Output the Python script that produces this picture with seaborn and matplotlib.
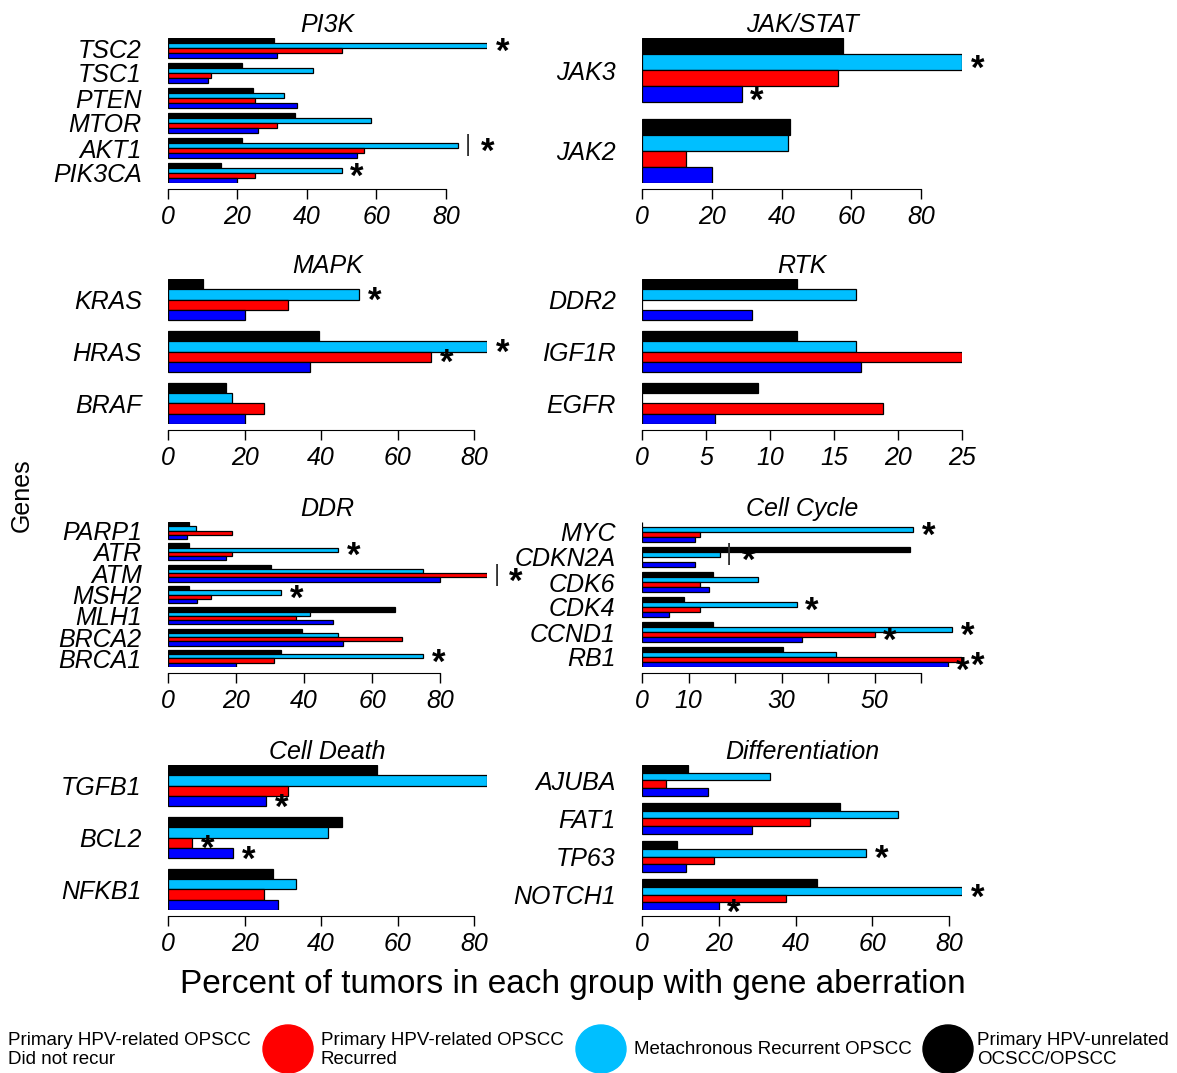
import matplotlib
matplotlib.use('Agg')
import matplotlib.pyplot as plt
from matplotlib.patches import Ellipse
import seaborn as sns
import pandas as pd

# groups, top bar to bottom bar inside each gene
groups = ['Primary HPV-unrelated OCSCC/OPSCC', 'Metachronous Recurrent OPSCC',
          'Primary HPV-related OPSCC Recurred', 'Primary HPV-related OPSCC Did not recur']
colors = ['#000000', '#00BFFF', '#FF0000', '#0000FF']

# PI3K
pi3k_genes = ['TSC2', 'TSC1', 'PTEN', 'MTOR', 'AKT1', 'PIK3CA']
pi3k_unrel = [30.4, 21.3, 24.4, 36.5, 21.3, 15.3]
pi3k_meta = [91.8, 41.7, 33.4, 58.4, 83.5, 50.0]
pi3k_rec = [50.0, 12.5, 25.0, 31.3, 56.3, 25.0]
pi3k_norec = [31.5, 11.4, 37.1, 25.8, 54.3, 20.0]
pi3k_marks = [('TSC2', 1, '*'), ('AKT1', 1, '|*'), ('PIK3CA', 1, '*')]

# JAK/STAT
jak_genes = ['JAK3', 'JAK2']
jak_unrel = [57.6, 42.4]
jak_meta = [91.7, 41.7]
jak_rec = [56.3, 12.5]
jak_norec = [28.6, 20.0]
jak_marks = [('JAK3', 1, '*'), ('JAK3', 3, '*')]

# MAPK
mapk_genes = ['KRAS', 'HRAS', 'BRAF']
mapk_unrel = [9.1, 39.4, 15.2]
mapk_meta = [50.0, 83.3, 16.7]
mapk_rec = [31.3, 68.8, 25.0]
mapk_norec = [20.0, 37.1, 20.0]
mapk_marks = [('KRAS', 1, '*'), ('HRAS', 1, '*'), ('HRAS', 2, '*')]

# RTK
rtk_genes = ['DDR2', 'IGF1R', 'EGFR']
rtk_unrel = [12.1, 12.1, 9.1]
rtk_meta = [16.7, 16.7, 0.0]
rtk_rec = [0.0, 25.0, 18.8]
rtk_norec = [8.6, 17.1, 5.7]
rtk_marks = []

# DDR
ddr_genes = ['PARP1', 'ATR', 'ATM', 'MSH2', 'MLH1', 'BRCA2', 'BRCA1']
ddr_unrel = [6.1, 6.1, 30.3, 6.1, 66.7, 39.4, 33.3]
ddr_meta = [8.3, 50.0, 75.0, 33.3, 41.7, 50.0, 75.0]
ddr_rec = [18.8, 18.8, 93.8, 12.5, 37.5, 68.8, 31.3]
ddr_norec = [5.7, 17.1, 80.0, 8.6, 48.6, 51.4, 20.0]
ddr_marks = [('ATR', 1, '*'), ('ATM', 2, '|*'), ('MSH2', 1, '*'), ('BRCA1', 1, '*')]

# Cell Cycle
cc_genes = ['MYC', 'CDKN2A', 'CDK6', 'CDK4', 'CCND1', 'RB1']
cc_unrel = [0.0, 57.6, 15.2, 9.1, 15.2, 30.3]
cc_meta = [58.3, 16.7, 25.0, 33.3, 66.7, 41.7]
cc_rec = [12.5, 0.0, 12.5, 12.5, 50.0, 68.8]
cc_norec = [11.4, 11.4, 14.3, 5.7, 34.3, 65.7]
cc_ticklabels = ['0', '10', '', '30', '', '50', '']
cc_marks = [('MYC', 1, '*'), ('CDKN2A', 1, '|*'), ('CDK4', 1, '*'), ('CCND1', 1, '*'),
            ('CCND1', 2, '*'), ('RB1', 2, '*'), ('RB1', 3, '*')]

# Cell Death
cd_genes = ['TGFB1', 'BCL2', 'NFKB1']
cd_unrel = [54.5, 45.5, 27.3]
cd_meta = [83.3, 41.7, 33.3]
cd_rec = [31.3, 6.3, 25.0]
cd_norec = [25.7, 17.1, 28.6]
cd_marks = [('TGFB1', 3, '*'), ('BCL2', 2, '*'), ('BCL2', 3, '*')]

# Differentiation
dif_genes = ['AJUBA', 'FAT1', 'TP63', 'NOTCH1']
dif_unrel = [12.1, 51.5, 9.1, 45.5]
dif_meta = [33.3, 66.7, 58.3, 83.3]
dif_rec = [6.3, 43.8, 18.8, 37.5]
dif_norec = [17.1, 28.6, 11.4, 20.0]
dif_marks = [('TP63', 1, '*'), ('NOTCH1', 1, '*'), ('NOTCH1', 3, '*')]

panels = [
    ('PI3K', pi3k_genes, [pi3k_unrel, pi3k_meta, pi3k_rec, pi3k_norec], range(0, 81, 20), None, pi3k_marks),
    ('JAK/STAT', jak_genes, [jak_unrel, jak_meta, jak_rec, jak_norec], range(0, 81, 20), None, jak_marks),
    ('MAPK', mapk_genes, [mapk_unrel, mapk_meta, mapk_rec, mapk_norec], range(0, 81, 20), None, mapk_marks),
    ('RTK', rtk_genes, [rtk_unrel, rtk_meta, rtk_rec, rtk_norec], range(0, 26, 5), None, rtk_marks),
    ('DDR', ddr_genes, [ddr_unrel, ddr_meta, ddr_rec, ddr_norec], range(0, 81, 20), None, ddr_marks),
    ('Cell Cycle', cc_genes, [cc_unrel, cc_meta, cc_rec, cc_norec], range(0, 61, 10), cc_ticklabels, cc_marks),
    ('Cell Death', cd_genes, [cd_unrel, cd_meta, cd_rec, cd_norec], range(0, 81, 20), None, cd_marks),
    ('Differentiation', dif_genes, [dif_unrel, dif_meta, dif_rec, dif_norec], range(0, 81, 20), None, dif_marks),
]

sns.set_style('white')
plt.rcParams['font.family'] = ['Liberation Sans', 'DejaVu Sans']
plt.rcParams['text.color'] = 'black'
plt.rcParams['axes.labelcolor'] = 'black'
plt.rcParams['xtick.color'] = 'black'
plt.rcParams['ytick.color'] = 'black'
plt.rcParams['xtick.labelsize'] = 18
plt.rcParams['ytick.labelsize'] = 18

W, H = 1177, 1073
fig = plt.figure(figsize=(W / 100, H / 100), dpi=100)

col_left = [168, 642]
col_width = [319, 320]
row_top = [38, 279, 522, 765]
panel_h = 145
offsets = [-0.3, -0.1, 0.1, 0.3]

for k, (title, genes, series, ticks, ticklabels, marks) in enumerate(panels):
    c, r = k % 2, k // 2
    ax = fig.add_axes([col_left[c] / W, 1 - (row_top[r] + panel_h) / H,
                       col_width[c] / W, panel_h / H])
    df = pd.DataFrame({
        'gene': [g for s in series for g in genes],
        'group': [grp for grp, s in zip(groups, series) for _ in s],
        'value': [v for s in series for v in s],
    })
    sns.barplot(data=df, y='gene', x='value', hue='group', order=genes, hue_order=groups,
                palette=colors, orient='h', saturation=1, errorbar=None,
                edgecolor='black', linewidth=0.9, legend=False, ax=ax)
    ax.set_xlim(0, max(max(s) for s in series))
    ax.set_ylim(len(genes) - 0.6, -0.4)
    ax.set_xlabel('')
    ax.set_ylabel('')
    ax.set_title(title, fontsize=18, fontstyle='italic', pad=4, color='black')

    tick_list = list(ticks)
    # spines first: moving a spine resets the axis ticks
    for side in ['top', 'right', 'left']:
        ax.spines[side].set_visible(False)
    ax.spines['bottom'].set_position(('outward', 4))
    ax.spines['bottom'].set_bounds(0, tick_list[-1])
    ax.spines['bottom'].set_color('black')

    ax.tick_params(axis='x', direction='out', length=7.5, width=1, pad=4,
                   bottom=True, color='black', labelsize=18)
    ax.tick_params(axis='y', length=0, pad=19, labelsize=18)
    labels = ticklabels if ticklabels is not None else [str(t) for t in tick_list]
    ax.set_xticks(tick_list, labels, fontstyle='italic', fontsize=18)
    ax.set_yticks(range(len(genes)), genes, fontstyle='italic', fontsize=18)

    for gene, gi, txt in marks:
        i = genes.index(gene)
        val = series[gi][i]
        y = i + offsets[gi]
        if txt.startswith('|'):
            ax.annotate('|', xy=(val, y), xytext=(7, 0), textcoords='offset points',
                        ha='center', va='center', fontsize=17, color='#333333')
            ax.annotate('*', xy=(val, y), xytext=(21, -5), textcoords='offset points',
                        ha='center', va='center', fontsize=25, fontweight='bold')
        else:
            ax.annotate('*', xy=(val, y), xytext=(11, -5), textcoords='offset points',
                        ha='center', va='center', fontsize=25, fontweight='bold')

fig.text(22 / W, 1 - 495 / H, 'Genes', rotation=90, ha='center', va='center', fontsize=18)
fig.text(573 / W, 1 - 985 / H, 'Percent of tumors in each group with gene aberration',
         ha='center', va='center', fontsize=24)

# legend
legend_font = ['Liberation Sans Narrow', 'Liberation Sans']
fig.text(8 / W, 1 - 1050 / H, 'Primary HPV-related OPSCC\nDid not recur', ha='left', va='center',
         fontsize=13.5, family=legend_font, linespacing=1.2)
for cx, tx, col, label in [(288, 321, colors[2], 'Primary HPV-related OPSCC\nRecurred'),
                           (601, 634, colors[1], 'Metachronous Recurrent OPSCC'),
                           (948, 977, colors[0], 'Primary HPV-unrelated\nOCSCC/OPSCC')]:
    fig.add_artist(Ellipse((cx / W, 1 - 1049 / H), 50 / W, 48 / H, color=col,
                           transform=fig.transFigure))
    fig.text(tx / W, 1 - 1050 / H, label, ha='left', va='center', fontsize=13.5,
             family=legend_font, linespacing=1.2)

fig.savefig('out.png', dpi=100)
